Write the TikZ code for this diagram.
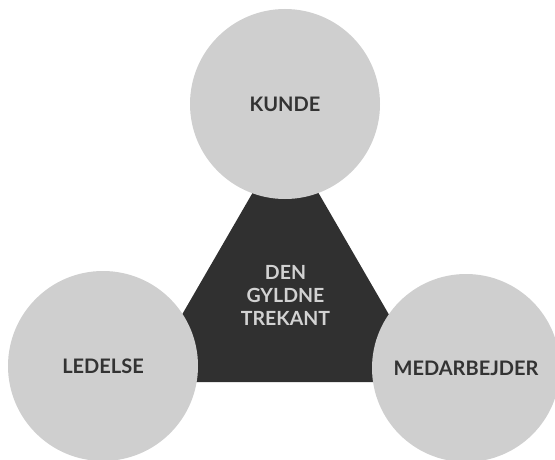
\documentclass[tikz,border=0pt]{standalone}
\usepackage{fontspec}
\setmainfont{Lato}
\definecolor{circgray}{HTML}{CFCFCF}
\definecolor{darktri}{HTML}{303030}
\definecolor{textdark}{HTML}{333333}
\definecolor{textlight}{HTML}{D2D2D2}
\tikzset{
  bubble/.style={circle, fill=circgray, minimum size=190pt, inner sep=0pt,
    text=textdark, font=\bfseries\fontsize{20}{24}\selectfont},
  centertext/.style={align=center, text=textlight,
    font=\bfseries\fontsize{19.5}{23}\selectfont}
}
\begin{document}
\begin{tikzpicture}[x=1pt,y=-1pt]
\useasboundingbox (0,0) rectangle (555,460);
\coordinate (apex) at (285.5,136);
\coordinate (bl) at (143,382);
\coordinate (br) at (428,382);
\fill[darktri] (apex) -- (bl) -- (br) -- cycle;
\node[centertext] (gold) at (285.5,295) {DEN\\GYLDNE\\TREKANT};
\node[bubble] (kunde) at (285,104) {KUNDE};
\node[bubble] (ledelse) at (103,366) {LEDELSE};
\node[bubble, minimum size=188pt] (medarb) at (466,368) {MEDARBEJDER};
\end{tikzpicture}
\end{document}
